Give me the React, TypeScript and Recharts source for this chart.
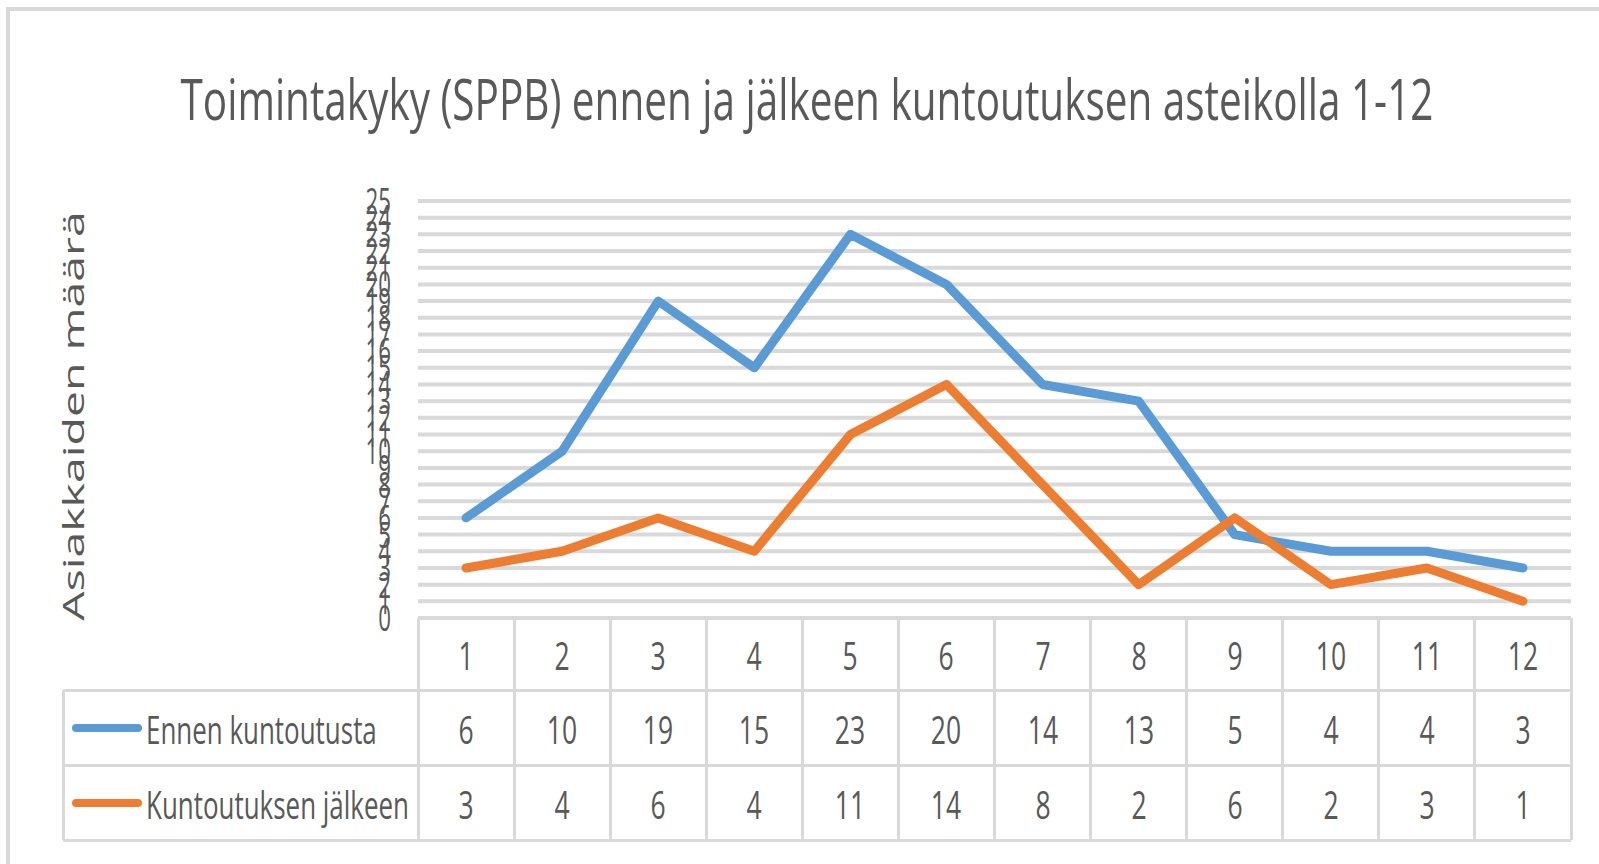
import { LineChart, Line, XAxis, YAxis, CartesianGrid } from 'recharts';

const categories = ['1', '2', '3', '4', '5', '6', '7', '8', '9', '10', '11', '12'];
const ennenKuntoutusta = [6, 10, 19, 15, 23, 20, 14, 13, 5, 4, 4, 3];
const kuntoutuksenJalkeen = [3, 4, 6, 4, 11, 14, 8, 2, 6, 2, 3, 1];
const yTicks = [0, 1, 2, 3, 4, 5, 6, 7, 8, 9, 10, 11, 12, 13, 14, 15, 16, 17, 18, 19, 20, 21, 22, 23, 24, 25];

const seriesNames = ['Ennen kuntoutusta', 'Kuntoutuksen jälkeen'];
const seriesValues = [ennenKuntoutusta, kuntoutuksenJalkeen];
const COLORS = ['#5b9bd5', '#ed7d31'];

const data = categories.map((c, i) => ({
    cat: c,
    ennen: ennenKuntoutusta[i],
    jalkeen: kuntoutuksenJalkeen[i],
}));

// layout (page px)
const W = 1599;
const H = 864;
const PLOT_L = 418;
const PLOT_R = 1571;
const PLOT_T = 201;
const PLOT_B = 618;
const COL_W = (PLOT_R - PLOT_L) / categories.length;
const ROWS = [618, 690, 765, 840];
const LEG_L = 63;
const TEXT = '#595959';
const GRID = '#d9d9d9';
const FONT = '"Open Sans", sans-serif';
const SX = 0.68;

function Narrow({ x, y, size, children, align = 'center', sx = SX }: any) {
    const left = align === 'left';
    return (
        <div
            style={{
                position: 'absolute',
                left: x,
                top: y,
                fontSize: size,
                lineHeight: 1,
                whiteSpace: 'nowrap',
                color: TEXT,
                transformOrigin: left ? 'left center' : 'center center',
                transform: left ? `translateY(-50%) scaleX(${sx})` : `translate(-50%, -50%) scaleX(${sx})`,
            }}
        >
            {children}
        </div>
    );
}

const YTick = ({ y, payload }: any) => (
    <g transform={`translate(391, ${y})`}>
        <text
            transform="scale(0.62, 1)"
            textAnchor="end"
            dy="0.36em"
            fontSize={36}
            fill={TEXT}
            fontFamily={FONT}
        >
            {payload.value}
        </text>
    </g>
);

function Hline({ x1, x2, y }: any) {
    return <div style={{ position: 'absolute', left: x1, top: y - 1.5, width: x2 - x1, height: 3, background: GRID }} />;
}
function Vline({ x, y1, y2 }: any) {
    return <div style={{ position: 'absolute', left: x - 1.5, top: y1, width: 3, height: y2 - y1, background: GRID }} />;
}

export default function App() {
    return (
        <div style={{ position: 'absolute', left: 0, top: 0, width: W, height: H, background: '#fff', fontFamily: FONT, overflow: 'hidden' }}>
            {/* outer frame */}
            <div style={{ position: 'absolute', left: 6, top: 7, width: W, height: H, borderTop: `4px solid ${GRID}`, borderLeft: `4px solid ${GRID}` }} />

            <Narrow x={807} y={98} size={57} sx={0.71}>Toimintakyky (SPPB) ennen ja jälkeen kuntoutuksen asteikolla 1-12</Narrow>

            {/* y axis title */}
            <div
                style={{
                    position: 'absolute',
                    left: 72,
                    top: 416,
                    fontSize: 29,
                    lineHeight: 1,
                    whiteSpace: 'nowrap',
                    color: TEXT,
                    transform: 'translate(-50%, -50%) rotate(-90deg) scaleX(1.6)',
                }}
            >
                Asiakkaiden määrä
            </div>

            <div style={{ position: 'absolute', left: 0, top: 0 }}>
                <LineChart width={W} height={H} data={data} margin={{ top: PLOT_T, right: W - PLOT_R, bottom: H - PLOT_B, left: 0 }}>
                    <CartesianGrid vertical={false} stroke={GRID} strokeWidth={4} />
                    <XAxis dataKey="cat" hide padding={{ left: COL_W / 2, right: COL_W / 2 }} />
                    <YAxis
                        width={PLOT_L}
                        domain={[0, 25]}
                        ticks={yTicks}
                        interval={0}
                        axisLine={false}
                        tickLine={false}
                        tick={<YTick />}
                    />
                    <Line type="linear" dataKey="ennen" stroke={COLORS[0]} strokeWidth={9} dot={false} strokeLinejoin="round" strokeLinecap="round" isAnimationActive={false} />
                    <Line type="linear" dataKey="jalkeen" stroke={COLORS[1]} strokeWidth={9} dot={false} strokeLinejoin="round" strokeLinecap="round" isAnimationActive={false} />
                </LineChart>
            </div>

            {/* data table */}
            <Hline x1={PLOT_L} x2={PLOT_R} y={ROWS[0]} />
            {ROWS.slice(1).map((y) => <Hline key={y} x1={LEG_L} x2={PLOT_R} y={y} />)}
            <Vline x={LEG_L} y1={ROWS[1]} y2={ROWS[3]} />
            {categories.map((c, i) => <Vline key={c} x={PLOT_L + i * COL_W} y1={ROWS[0]} y2={ROWS[3]} />)}
            <Vline x={PLOT_R} y1={ROWS[0]} y2={ROWS[3]} />

            {categories.map((c, i) => (
                <Narrow key={c} x={PLOT_L + (i + 0.5) * COL_W} y={(ROWS[0] + ROWS[1]) / 2} size={39}>{c}</Narrow>
            ))}
            {seriesValues.map((vals, r) => (
                <div key={r}>
                    <div
                        style={{
                            position: 'absolute',
                            left: 72,
                            top: (ROWS[r + 1] + ROWS[r + 2]) / 2 - 4,
                            width: 70,
                            height: 8,
                            borderRadius: 4,
                            background: COLORS[r],
                        }}
                    />
                    <Narrow x={146} y={(ROWS[r + 1] + ROWS[r + 2]) / 2} size={39} align="left" sx={0.665}>{seriesNames[r]}</Narrow>
                    {vals.map((v, i) => (
                        <Narrow key={i} x={PLOT_L + (i + 0.5) * COL_W} y={(ROWS[r + 1] + ROWS[r + 2]) / 2} size={39}>{v}</Narrow>
                    ))}
                </div>
            ))}
        </div>
    );
}
